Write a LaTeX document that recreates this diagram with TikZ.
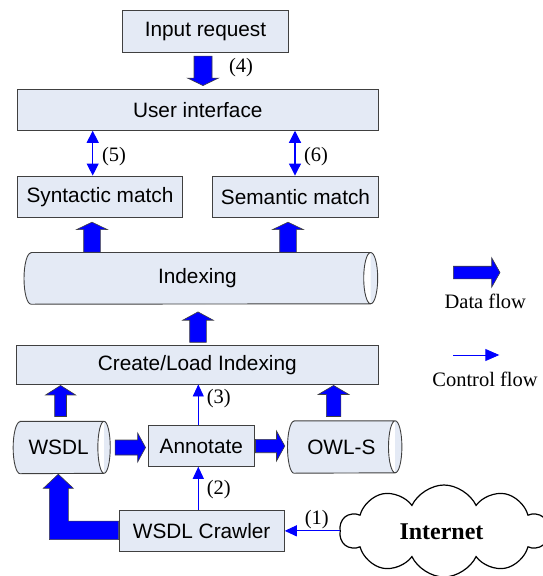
\documentclass[tikz,border=0pt]{standalone}
\usepackage{fontspec}
\setmainfont{Liberation Serif}
\setsansfont{Liberation Sans}
\usetikzlibrary{calc,arrows.meta,shapes.symbols,backgrounds}
\definecolor{boxfill}{HTML}{E4EAF5}
\definecolor{boxline}{HTML}{404040}
\definecolor{flowblue}{HTML}{0000FF}
\tikzset{
  box/.style={draw=boxline, fill=boxfill, line width=0.9pt, inner sep=0pt,
    font=\sffamily\fontsize{20.8}{24}\selectfont},
  cylnode/.style={draw=none, inner sep=0pt, font=\sffamily\fontsize{20.8}{24}\selectfont},
  cylstyle/.style={draw=boxline, fill=boxfill, line width=0.9pt},
  fatstyle/.style={fill=flowblue, draw=black!75, line width=0.6pt, line join=miter},
  ctl/.style={draw=flowblue, line width=0.9pt, -{Triangle[length=12pt,width=11pt]}},
  ctlboth/.style={draw=flowblue, line width=1.1pt, {Triangle[length=12pt,width=12pt]}-{Triangle[length=12pt,width=12pt]}},
  lbl/.style={inner sep=0pt, font=\rmfamily\fontsize{20.5}{24}\selectfont},
}
% start, end, shaft half width, head half width, head length
\newcommand\fatarr[5]{%
  \path #1 coordinate (faS) #2 coordinate (faE);
  \coordinate (faH) at ($(faE)!#5!(faS)$);
  \draw[fatstyle] ($(faS)!#3!90:(faE)$) -- ($(faH)!#3!90:(faE)$) -- ($(faH)!#4!90:(faE)$)
    -- (faE) -- ($(faH)!#4!-90:(faE)$) -- ($(faH)!#3!-90:(faE)$) -- ($(faS)!#3!-90:(faE)$) -- cycle;
}
% name, left rx, right rx, half height
\newcommand\cylshape[4]{%
  \draw[cylstyle] ([xshift=#2]#1.north west) -- (#1.north east)
    arc[start angle=90, end angle=-90, x radius=#3, y radius=#4]
    -- ([xshift=#2]#1.south west)
    arc[start angle=270, end angle=90, x radius=#2, y radius=#4] -- cycle
    (#1.north east) arc[start angle=90, end angle=270, x radius=#3, y radius=#4];
}
\begin{document}
\begin{tikzpicture}[x=1pt, y=-1pt]
\useasboundingbox (0,0) rectangle (543,576);

% boxes
\node[box, minimum width=165.6pt, minimum height=41.6pt] (inp) at (205.5,31.5) {Input request};
\node[box, minimum width=361pt, minimum height=41pt] (ui) at (197.8,109.8) {User interface};
\node[box, minimum width=165.4pt, minimum height=41.7pt] (syn) at (100,196.85) {Syntactic match};
\node[box, minimum width=165.6pt, minimum height=41.7pt] (sem) at (295.5,196.85) {Semantic match};
\node[cylnode, minimum width=346.3pt, minimum height=51.3pt] (idx) at (197.35,278.35) {Indexing};
\node[box, minimum width=361.4pt, minimum height=38.3pt] (cre) at (197.3,364.85) {Create/Load Indexing};
\node[cylnode, minimum width=90.5pt, minimum height=52pt] (wsdl) at (58.6,447.5) {WSDL};
\node[box, minimum width=106pt, minimum height=40.6pt] (ann) at (201.3,446) {Annotate};
\node[cylnode, minimum width=107.3pt, minimum height=52pt] (owl) at (341.35,447) {OWL-S};
\node[box, minimum width=165.3pt, minimum height=41.7pt] (crw) at (201.65,530.85) {WSDL Crawler};
\node[cloud, cloud puffs=10, cloud puff arc=130, cloud ignores aspect, draw=black, line width=1.2pt,
      minimum width=208pt, minimum height=92pt, inner sep=0pt] (net) at (444,531) {};
\node[inner sep=0pt, font=\rmfamily\bfseries\fontsize{24}{28}\selectfont] (nettext) at (441.5,531.7) {Internet};

\begin{scope}[on background layer]
  \cylshape{idx}{7pt}{7pt}{25.65pt}
  \cylshape{wsdl}{7pt}{6.2pt}{26pt}
  \cylshape{owl}{6.5pt}{6.7pt}{26pt}
\end{scope}

% data flow arrows
\fatarr{([xshift=-2.5pt,yshift=-3.4pt]inp.south)}{([xshift=-2.5pt,yshift=3.3pt]inp.south |- ui.north)}{9pt}{15.5pt}{7.5pt}
\fatarr{([xshift=-8pt,yshift=0.4pt]syn.south |- idx.north)}{([xshift=-8pt,yshift=-4pt]syn.south)}{8.3pt}{15.5pt}{7.5pt}
\fatarr{([xshift=-7.5pt,yshift=0.4pt]sem.south |- idx.north)}{([xshift=-7.5pt,yshift=-4pt]sem.south)}{8.3pt}{15.5pt}{7.5pt}
\fatarr{([xshift=0.7pt,yshift=3pt]cre.north)}{([xshift=0.7pt,yshift=-7.7pt]cre.north |- idx.south)}{8.3pt}{15.3pt}{8.3pt}
\fatarr{([xshift=2pt,yshift=4.8pt]wsdl.north)}{([xshift=2pt,yshift=-1pt]wsdl.north |- cre.south)}{5.9pt}{15pt}{9.5pt}
\fatarr{([xshift=-7.75pt,yshift=4.3pt]owl.north)}{([xshift=-7.75pt,yshift=-1pt]owl.north |- cre.south)}{7.3pt}{15.3pt}{9pt}
\fatarr{([xshift=11pt]wsdl.east)}{([xshift=-2.3pt]ann.west |- wsdl.east)}{7.5pt}{14.7pt}{8pt}
\fatarr{([xshift=0.7pt]ann.east)}{([xshift=-2.7pt]owl.west |- ann.east)}{6.7pt}{15pt}{8.3pt}
% L-shaped arrow from crawler to WSDL
\draw[fatstyle] ([yshift=9.8pt]crw.west) -- ([yshift=9.8pt]crw.west -| 68.3,0)
  -- (68.3,488.3) -- (73.3,488.3) -- ([xshift=-0.3pt,yshift=-0.5pt]wsdl.south) -- (43.3,488.3) -- (49.3,488.3)
  -- ([yshift=-8.8pt]crw.west -| 49.3,0) -- ([yshift=-8.8pt]crw.west) -- cycle;

% control flow arrows
\draw[ctlboth] ([xshift=-7.3pt]syn.north) -- ([xshift=-7.3pt]syn.north |- ui.south);
\draw[ctlboth] ([xshift=-0.5pt]sem.north) -- ([xshift=-0.5pt]sem.north |- ui.south);
\draw[ctl] ([xshift=-3pt]ann.north) -- ([xshift=-3pt]ann.north |- cre.south);
\draw[ctl] ([xshift=-3.35pt]crw.north) -- ([xshift=-3.35pt]crw.north |- ann.south);
\draw[ctl] (crw.east -| net.west) -- (crw.east);

% labels
\node[lbl] (l4) at (241,68) {(4)};
\node[lbl] (l5) at (114,157) {(5)};
\node[lbl] (l6) at (316,157) {(6)};
\node[lbl] (l3) at (218.8,398.3) {(3)};
\node[lbl] (l2) at (218.8,489.3) {(2)};
\node[lbl] (l1) at (316.7,519.3) {(1)};

% legend
\coordinate (dfa) at (453.3,272.5);
\coordinate (dfb) at (500,272.5);
\fatarr{(dfa)}{(dfb)}{6.3pt}{14.7pt}{8.3pt}
\node[lbl] (dflow) at (485.3,301.7) {Data flow};
\coordinate (cfa) at (453.3,355);
\coordinate (cfb) at (499.3,355);
\draw[draw=flowblue, line width=0.9pt, -{Triangle[length=14pt,width=12pt]}] (cfa) -- (cfb);
\node[lbl] (cflow) at (485,379.3) {Control flow};
\end{tikzpicture}
\end{document}
